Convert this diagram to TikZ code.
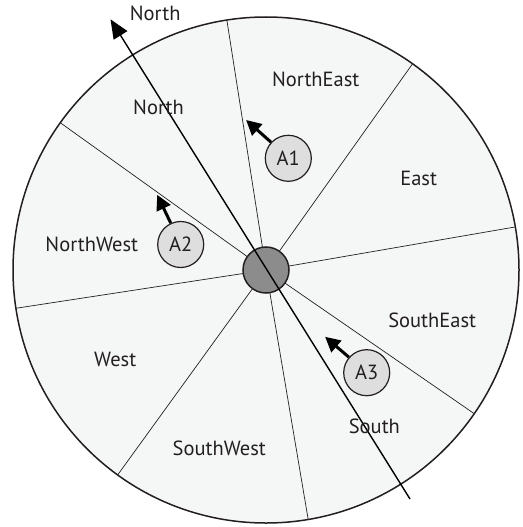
\documentclass[tikz,border=0pt]{standalone}
\usepackage{fontspec}
\setmainfont{PT Sans}
\usetikzlibrary{arrows.meta,calc}
\definecolor{ink}{HTML}{231F20}
\definecolor{diskfill}{HTML}{F5F7F7}
\definecolor{agentfill}{HTML}{DEDEDE}
\definecolor{hubfill}{HTML}{8C8C8C}
\begin{document}
\begin{tikzpicture}[x=1pt,y=1pt,
  disk/.style={draw=ink,fill=diskfill,line width=1.5pt},
  spoke/.style={draw=ink,line width=0.7pt},
  hub/.style={circle,draw=ink,fill=hubfill,line width=1.5pt,minimum size=46pt,inner sep=0pt},
  agent/.style={circle,draw=ink,fill=agentfill,line width=1.2pt,minimum size=46pt,inner sep=0pt,
    font=\fontsize{20.5}{22}\selectfont,text=ink},
  agentarrow/.style={draw=black,line width=3pt,-{Triangle[length=15pt,width=15pt]}},
  northarrow/.style={draw=black,line width=1.4pt,-{Triangle[length=19pt,width=16pt]}},
  lbl/.style={anchor=base,inner sep=0pt,font=\fontsize{20.5}{22}\selectfont,text=ink}]
\useasboundingbox (0,0) rectangle (522,-527);
\coordinate (C) at (266,-270);
\draw[disk] (C) circle[radius=253];
\foreach \a [count=\i] in {9.8,54.6,98.9,144.4,188.7,234.1,279.6,325.4}{
  \coordinate (rim\i) at ($(C)+(\a:253)$);
  \draw[spoke] (C) -- (rim\i);
}
\node[hub] (hub) at (C) {};
\coordinate (ntail) at (410,-499);
\coordinate (ntip) at (110.5,-19.3);
\draw[northarrow] (ntail) -- (ntip);
% agents
\node[agent] (A1) at (288.3,-158.3) {A1};
\node[agent] (A2) at (180.7,-244.5) {A2};
\node[agent] (A3) at (366.7,-372.7) {A3};
\coordinate (t1) at ($(A1)+(137.8:57)$);
\coordinate (t2) at ($(A2)+(115.3:55)$);
\coordinate (t3) at ($(A3)+(139.2:55)$);
\draw[agentarrow] (A1.137.8) -- (t1);
\draw[agentarrow] (A2.115.3) -- (t2);
\draw[agentarrow] (A3.139.2) -- (t3);
% labels
\node[lbl] (lnorthtop) at (155.2,-20.7) {North};
\node[lbl] (lnorth) at (158.5,-114.5) {North};
\node[lbl] (lne) at (315.8,-86.7) {NorthEast};
\node[lbl] (le) at (418.7,-185.7) {East};
\node[lbl] (lnw) at (91.8,-251) {NorthWest};
\node[lbl] (lw) at (115.2,-366) {West};
\node[lbl] (lsw) at (219.3,-455) {SouthWest};
\node[lbl] (ls) at (374.4,-433) {South};
\node[lbl] (lse) at (432.2,-327.3) {SouthEast};
\end{tikzpicture}
\end{document}
